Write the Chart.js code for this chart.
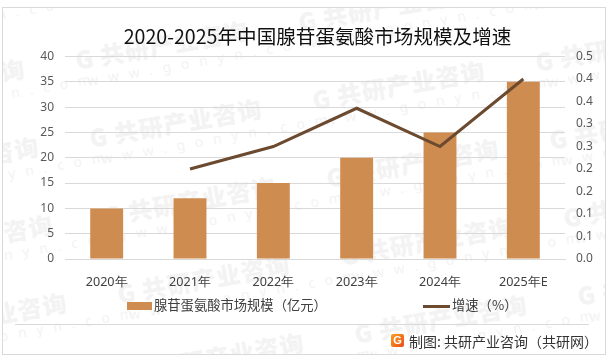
<!DOCTYPE html>
<html>
<head>
<meta charset="utf-8">
<script src="https://cdn.jsdelivr.net/npm/chart.js@4"></script>
<style>
    html, body { margin: 0; padding: 0; background: #fff; overflow: hidden; }
    body { width: 614px; height: 359px; position: relative; font-family: "Noto Sans CJK SC", sans-serif; }
    #frame { position: absolute; left: 2px; top: 7px; width: 602px; height: 346px; border: 1px solid #d9d9d9; }
    #rule { position: absolute; left: 15px; top: 324px; width: 574px; height: 1px; background: #d9d9d9; }
    #marks { position: absolute; left: 3px; top: 8px; width: 602px; height: 346px; overflow: hidden; }
    .mark { position: absolute; transform: rotate(-10deg); transform-origin: left top; color: #f3f3f3; white-space: nowrap; }
    .mark b { display: block; font-size: 24px; line-height: 27px; font-weight: 900; letter-spacing: 1px; }
    .mark span { display: block; font: 14px "Noto Sans", sans-serif; letter-spacing: 10px; margin-left: 8px; }
    canvas { position: absolute; left: 0; top: 0; }
    .legend { position: absolute; top: 296px; font-size: 13.3px; line-height: 18px; color: #404040; white-space: nowrap; }
    .swatch { position: absolute; }
    #logo { position: absolute; left: 391px; top: 334px; width: 13px; height: 13px; border-radius: 2px; background: linear-gradient(135deg, #f8a01c, #ee4b1a); color: #fff; font: bold 11px/13px "Liberation Sans", sans-serif; text-align: center; }
    #source { position: absolute; left: 409px; top: 332px; font-size: 14px; line-height: 18px; color: #333; white-space: nowrap; }
</style>
</head>
<body>
<div id="marks"></div>
<div id="frame"></div>
<div id="rule"></div>
<canvas id="marketChart" width="614" height="359"></canvas>
<div class="swatch" style="left:127px;top:302px;width:25px;height:8px;background:#CF8C50"></div>
<div class="legend" id="barLegend" style="left:154px"></div>
<div class="swatch" style="left:423px;top:305px;width:27px;height:3px;background:#6B4A30"></div>
<div class="legend" id="lineLegend" style="left:452px"></div>
<div id="logo">G</div>
<div id="source">制图: 共研产业咨询（共研网）</div>

<script>
const titleText = '2020-2025年中国腺苷蛋氨酸市场规模及增速';
const categories = ['2020年', '2021年', '2022年', '2023年', '2024年', '2025年E'];
const marketSize = [10, 12, 15, 20, 25, 35];
const growthRate = [null, 0.20, 0.25, 0.335, 0.25, 0.40];
const leftTicks = [0, 5, 10, 15, 20, 25, 30, 35, 40];
const rightTickLabels = ['0.0', '0.1', '0.1', '0.2', '0.2', '0.3', '0.3', '0.4', '0.4', '0.5'];
const barLabel = '腺苷蛋氨酸市场规模（亿元）';
const lineLabel = '增速（%）';

document.getElementById('barLegend').textContent = barLabel;
document.getElementById('lineLegend').textContent = lineLabel;

// Background watermark, repeated on a slanted lattice
const marks = document.getElementById('marks');
for (let col = -1; col < 3; col++) {
    for (let row = -1; row < 5; row++) {
        const el = document.createElement('div');
        el.className = 'mark';
        el.style.left = (70 + col * 223 + row * 14) + 'px';
        el.style.top = (38 - col * 38 + row * 78) + 'px';
        el.innerHTML = '<b>G 共研产业咨询</b><span>www.gonyn.com</span>';
        marks.appendChild(el);
    }
}

const tickFont = { family: '"Noto Sans", sans-serif', size: 12 };

new Chart(document.getElementById('marketChart').getContext('2d'), {
    data: {
        labels: categories,
        datasets: [
            {
                type: 'line',
                label: lineLabel,
                data: growthRate,
                yAxisID: 'y2',
                borderColor: '#6B4A30',
                borderWidth: 3,
                pointRadius: 0,
                tension: 0,
                order: 1
            },
            {
                type: 'bar',
                label: barLabel,
                data: marketSize,
                yAxisID: 'y',
                backgroundColor: '#CF8C50',
                categoryPercentage: 1,
                barPercentage: 0.395,
                order: 2
            }
        ]
    },
    options: {
        responsive: false,
        animation: false,
        layout: { padding: { left: 21, right: 0, top: 0, bottom: 0 } },
        plugins: {
            legend: { display: false },
            tooltip: { enabled: false },
            title: {
                display: true,
                text: titleText,
                color: '#111',
                font: { family: '"Noto Sans CJK SC", sans-serif', size: 19.6, weight: 'normal' },
                padding: { top: 25, bottom: 8 }
            }
        },
        scales: {
            x: {
                grid: { display: false },
                border: { color: '#d9d9d9' },
                ticks: { color: '#404040', font: { family: tickFont.family, size: 12.6 }, padding: 8, maxRotation: 0, autoSkip: false },
                afterFit: scale => { scale.height = 100; }
            },
            y: {
                position: 'left',
                min: 0,
                max: 40,
                grid: { color: '#d9d9d9', drawTicks: false },
                border: { display: false },
                afterBuildTicks: scale => { scale.ticks = leftTicks.map(value => ({ value })); },
                ticks: { color: '#595959', font: tickFont, padding: 11 },
                afterFit: scale => { scale.width = 44; }
            },
            y2: {
                position: 'right',
                min: 0,
                max: 0.45,
                grid: { display: false, drawTicks: false },
                border: { display: false },
                ticks: {
                    stepSize: 0.05,
                    color: '#595959',
                    font: tickFont,
                    padding: 11,
                    callback: (value, index) => rightTickLabels[index]
                },
                afterFit: scale => { scale.width = 49; }
            }
        }
    }
});
</script>
</body>
</html>
